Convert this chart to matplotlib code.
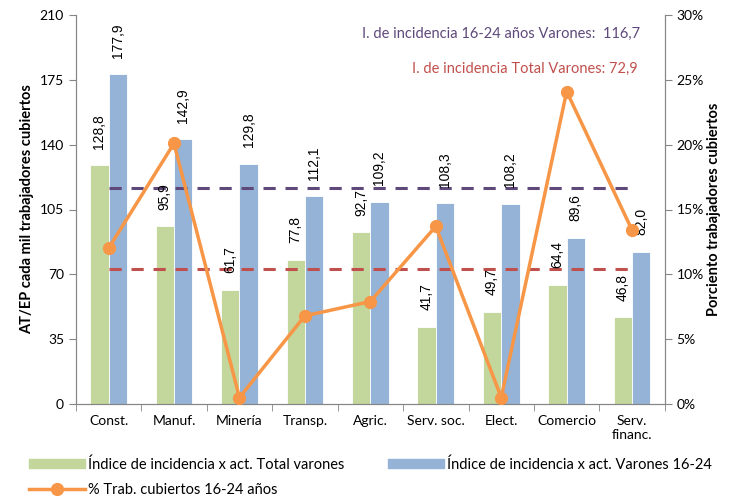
import matplotlib
matplotlib.use("Agg")
import matplotlib.pyplot as plt
from matplotlib.ticker import FuncFormatter, FixedLocator
from matplotlib.lines import Line2D
from matplotlib.patches import Patch
import numpy as np

plt.rcParams['font.family'] = ['Lato', 'DejaVu Sans']

categories = ["Const.", "Manuf.", "Minería", "Transp.", "Agric.",
              "Serv. soc.", "Elect.", "Comercio", "Serv.\nfinanc."]
total_varones = [128.8, 95.9, 61.7, 77.8, 92.7, 41.7, 49.7, 64.4, 46.8]
varones_16_24 = [177.9, 142.9, 129.8, 112.1, 109.2, 108.3, 108.2, 89.6, 82.0]
pct_16_24 = [12.0, 20.1, 0.5, 6.8, 7.9, 13.7, 0.5, 24.1, 13.4]
ref_16_24 = 116.7
ref_total = 72.9

GREEN = "#C3D69B"
BLUE = "#95B3D7"
ORANGE = "#F79646"
PURPLE = "#5F497A"
RED = "#C0504D"
AXIS_GRAY = "#868686"

fig = plt.figure(figsize=(7.29, 5), dpi=100)
ax = fig.add_axes([0.104, 0.192, 0.808, 0.778])

x = np.arange(len(categories))
w = 0.28
b1 = ax.bar(x - w / 2, total_varones, w, color=GREEN, edgecolor="white", linewidth=0.6, zorder=2)
b2 = ax.bar(x + w / 2, varones_16_24, w, color=BLUE, edgecolor="white", linewidth=0.6, zorder=2)

for bars in (b1, b2):
    for p in bars:
        h = p.get_height()
        ax.annotate(f"{h:.1f}".replace(".", ","),
                    (p.get_x() + p.get_width() / 2, h),
                    xytext=(0, 12), textcoords="offset points",
                    rotation=90, ha="center", va="bottom",
                    fontsize=10, family="Liberation Sans", zorder=5)

ax.plot([x[0], x[-1]], [ref_16_24, ref_16_24], color=PURPLE, lw=2.2,
        dashes=(4, 3.2), zorder=3)
ax.plot([x[0], x[-1]], [ref_total, ref_total], color=RED, lw=2.2,
        dashes=(4, 3.2), zorder=3)

ax.set_xlim(-0.5, len(categories) - 0.5)
ax.set_ylim(0, 210)
ax.set_yticks(np.arange(0, 211, 35))
ax.set_xticks(x)
ax.set_xticklabels(categories, fontsize=10)
ax.xaxis.set_minor_locator(FixedLocator(np.arange(-0.5, len(categories), 1)))
ax.tick_params(axis="x", which="major", length=0, pad=8)
ax.tick_params(axis="x", which="minor", length=5, color=AXIS_GRAY, direction="out")
ax.tick_params(axis="y", length=5, color=AXIS_GRAY, labelsize=10)
ax.set_ylabel("AT/EP cada mil trabajadores cubiertos", fontsize=10.5, fontweight="bold")

ax.spines["top"].set_visible(False)
for s in ("left", "bottom", "right"):
    ax.spines[s].set_color(AXIS_GRAY)

ax2 = ax.twinx()
ax2.plot(x, pct_16_24, color=ORANGE, lw=2.5, marker="o", markersize=8.5, zorder=4)
ax2.set_ylim(0, 30)
ax2.set_yticks(np.arange(0, 31, 5))
ax2.yaxis.set_major_formatter(FuncFormatter(lambda v, _: f"{v:.0f}%"))
ax2.tick_params(axis="y", length=5, color=AXIS_GRAY, labelsize=10)
ax2.set_ylabel("Porciento trabajadores cubiertos", fontsize=10.5, fontweight="bold", labelpad=2)
ax2.spines["top"].set_visible(False)
for s in ("left", "bottom", "right"):
    ax2.spines[s].set_color(AXIS_GRAY)

ax2.text(0.958, 0.952, "I. de incidencia 16-24 años Varones:  " + f"{ref_16_24:.1f}".replace(".", ","),
         transform=ax2.transAxes, ha="right", va="center", color=PURPLE, fontsize=10.5)
ax2.text(0.954, 0.862, "I. de incidencia Total Varones: " + f"{ref_total:.1f}".replace(".", ","),
         transform=ax2.transAxes, ha="right", va="center", color=RED, fontsize=10.5)

# column-wise fill: green + orange in first column, blue in second
handles = [Patch(color=GREEN),
           Line2D([], [], color=ORANGE, lw=2.5, marker="o", markersize=8.5),
           Patch(color=BLUE)]
labels = ["Índice de incidencia x act. Total varones",
          "% Trab. cubiertos 16-24 años",
          "Índice de incidencia x act. Varones 16-24"]
fig.legend(handles, labels, loc="lower left", bbox_to_anchor=(0.022, -0.02),
           ncol=2, frameon=False, fontsize=10.5, handlelength=3.8, handleheight=0.6,
           columnspacing=3.0, handletextpad=0.25, labelspacing=0.75)

plt.savefig("out.png", dpi=100)
plt.close()
